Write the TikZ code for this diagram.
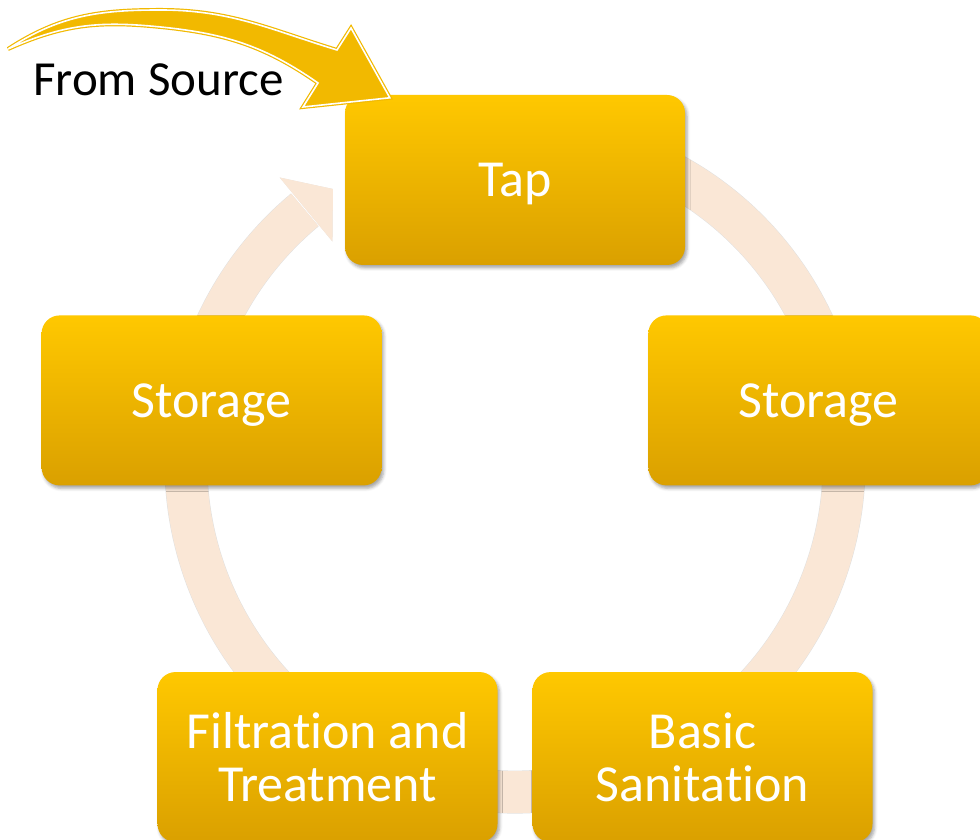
\documentclass[tikz,border=0pt]{standalone}
\usepackage{fontspec}
\setmainfont{Carlito}[Ligatures=NoCommon]
\usetikzlibrary{calc,shadows.blur}
\definecolor{GoldTop}{RGB}{255,200,0}
\definecolor{GoldBottom}{RGB}{218,160,0}
\definecolor{ArrowGold}{RGB}{242,185,0}
\definecolor{RingPeach}{RGB}{250,231,214}
\tikzset{
  stage/.style={rounded corners=18,top color=GoldTop,bottom color=GoldBottom,
    draw=none,minimum width=340,minimum height=170,inner sep=0pt,
    text=white,align=center,font=\fontsize{52}{53}\selectfont,
    blur shadow={shadow xshift=2pt,shadow yshift=-3pt,
      shadow blur radius=3pt,shadow opacity=35}},
  oneline/.style={text height=34pt,text depth=0pt},
  ring/.style={RingPeach,line width=42},
  ringshade/.style={black,opacity=.12,line width=43},
  feedarrow/.style={fill=ArrowGold,draw=ArrowGold,double=white,
    double distance=1.6pt,line width=1.2pt,line join=miter}
}
\begin{document}
\begin{tikzpicture}[x=1pt,y=1pt]
  \useasboundingbox (0,0) rectangle (980,840);
  \coordinate (hub) at (515,377); % centre of the ring
  \coordinate (mid) at (515,341); % centre of the five stages

  % ring behind the stages, shadow first
  \begin{scope}[shift={(1,-3)}]
    \draw[ringshade] ($(hub)+(70:329)$) arc[start angle=70,end angle=-230.3,radius=329];
    \fill[black,opacity=.12] ($(hub)+(129.5:370)$) -- ($(hub)+(123.6:329)$)
      -- ($(hub)+(129.5:287)$) -- cycle;
  \end{scope}
  \draw[ring] ($(hub)+(70:329)$) arc[start angle=70,end angle=-230.3,radius=329];
  \fill[RingPeach] ($(hub)+(129.5:370)$) -- ($(hub)+(123.6:329)$)
    -- ($(hub)+(129.5:287)$) -- cycle;

  % the five stages
  \node[stage,oneline] (tap)    at ($(mid)+(90:319)$)   {Tap};
  \node[stage,oneline] (storeR) at ($(mid)+(18:319)$)   {Storage};
  \node[stage]         (sanit)  at ($(mid)+(-54:319)$)  {Basic\\Sanitation};
  \node[stage]         (filter) at ($(mid)+(-126:319)$) {Filtration and\\Treatment};
  \node[stage,oneline] (storeL) at ($(mid)+(162:319)$)  {Storage};

  % supply arrow into the tap
  \coordinate (feed) at ($(tap.north west)+(45,-3)$);
  \draw[feedarrow] (8,791) to[out=33,in=180] (160,830) to[out=0,in=163] (337,790)
    -- (351,812) -- (feed) -- (303,733) -- (318,757)
    to[out=145,in=-5] (150,814) to[out=175,in=24] (8,791) -- cycle;
  \node[anchor=base west,font=\fontsize{49}{51}\selectfont,inner sep=0pt]
    (src) at (33,744) {From Source};
\end{tikzpicture}
\end{document}
